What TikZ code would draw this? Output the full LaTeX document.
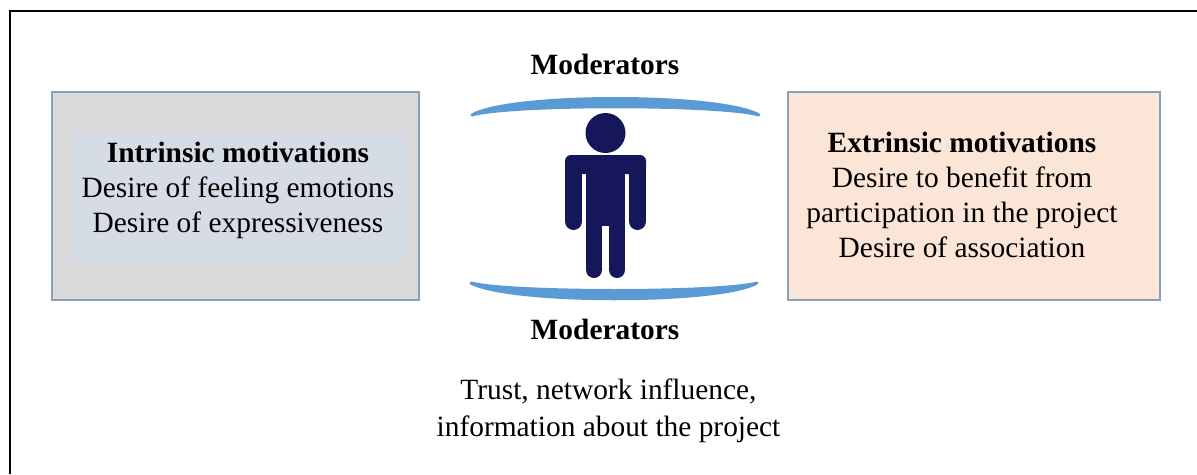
\documentclass[tikz,border=0pt]{standalone}
\usepackage{fontspec}
\setmainfont{Liberation Serif}
\usetikzlibrary{positioning}
\definecolor{boxedge}{RGB}{135,160,190}
\definecolor{greyfill}{RGB}{217,217,217}
\definecolor{bluefill}{RGB}{214,220,229}
\definecolor{peachfill}{RGB}{251,229,214}
\definecolor{arcblue}{RGB}{91,155,213}
\definecolor{figurenavy}{RGB}{21,23,90}
\tikzset{
	motivebox/.style={draw=boxedge,line width=2pt,minimum width=367pt,minimum height=208pt,inner sep=0pt},
	motivetext/.style={align=center,font=\fontsize{29.4}{35}\selectfont,inner sep=0pt},
	limb/.style={line cap=round,figurenavy},
	arcshape/.style={fill=arcblue,draw=arcblue,line width=3pt,line join=round}
}
\begin{document}
\begin{tikzpicture}[x=1pt,y=-1pt]
	\useasboundingbox (0,0) rectangle (1197,474);
	\fill[white] (0,0) rectangle (1197,474);
	% frame
	\draw[line width=2pt] (10,474) -- (10,11) -- (1197,11);
	% boxes
	\node (intrinsicbox) [motivebox,fill=greyfill] at (235.5,195.5) {};
	\node (intrinsicpanel) [fill=bluefill,minimum width=335pt,minimum height=130pt,inner sep=0pt] at (238,197.5) {};
	\node (intrinsic) [motivetext] at (238,190) {\textbf{Intrinsic motivations}\\Desire of feeling emotions\\Desire of expressiveness};
	\node (extrinsicbox) [motivebox,minimum width=372pt,fill=peachfill] at (973.5,195.5) {};
	\node (extrinsic) [motivetext] at (962,195) {\textbf{Extrinsic motivations}\\Desire to benefit from\\participation in the project\\Desire of association};
	% arcs
	\path[arcshape] (472,115) .. controls (510,93) and (720,93) .. (759,115) .. controls (720,104) and (510,104) .. (472,115) -- cycle;
	\path[arcshape] (471,283) .. controls (510,304) and (720,304) .. (757,283) .. controls (720,293) and (510,293) .. (471,283) -- cycle;
	% person
	\node (head) [circle,fill=figurenavy,minimum size=40pt,inner sep=0pt] at (605.5,133) {};
	\fill[figurenavy,rounded corners=6pt] (565,155) rectangle (646,174);
	\fill[figurenavy] (586,165) rectangle (625,226);
	\draw[limb,line width=17pt] (573.5,165) -- (573.5,221.5);
	\draw[limb,line width=17pt] (637.5,165) -- (637.5,221.5);
	\draw[limb,line width=16pt] (594,220) -- (594,270);
	\draw[limb,line width=16pt] (617,220) -- (617,270);
	% labels
	\node (topmod) [motivetext] at (605,64) {\textbf{Moderators}};
	\node (botmod) [motivetext] at (605,329) {\textbf{Moderators}};
	\node (moderatortext) [motivetext,font=\fontsize{29.4}{37}\selectfont] at (608.5,411) {Trust, network influence,\\information about the project};
\end{tikzpicture}
\end{document}
